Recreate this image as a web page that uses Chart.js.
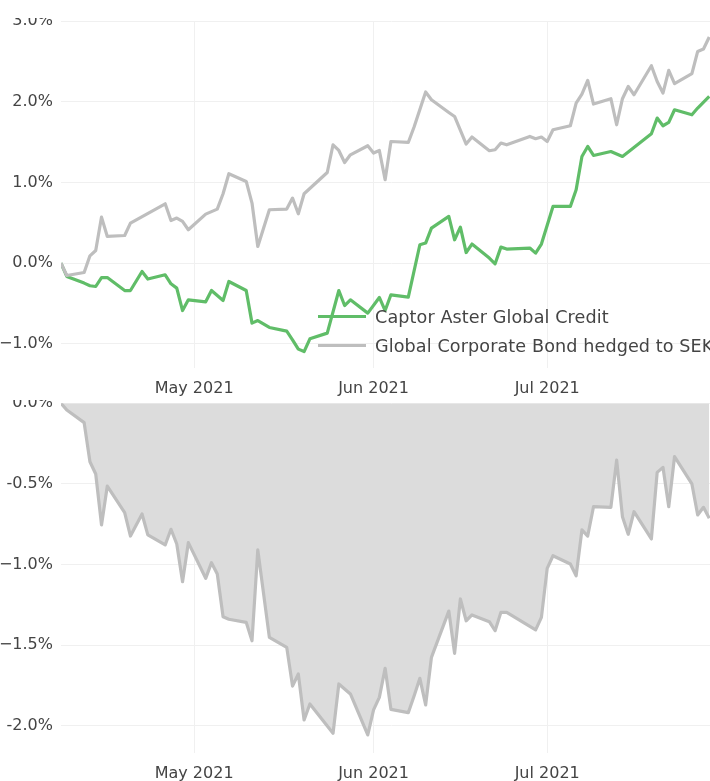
<!DOCTYPE html>
<html>
<head>
<meta charset="utf-8">
<script src="https://cdn.jsdelivr.net/npm/chart.js@4.4.1/dist/chart.umd.min.js"></script>
<style>
    html, body { margin: 0; padding: 0; width: 710px; height: 781px; overflow: hidden; background: #fff; }
    .box { position: absolute; left: 0; width: 724px; }
    #topBox { top: 0; height: 400px; clip-path: inset(18px 0 0 0); }
    #botBox { top: 382px; height: 399px; clip-path: inset(18px 0 0 0); }
    .legend { position: absolute; left: 318px; top: 302px; font-family: "DejaVu Sans", sans-serif; font-size: 17.6px; letter-spacing: 0.1px; color: #444; white-space: nowrap; }
    .legend-row { display: flex; align-items: center; height: 29px; }
    .swatch { width: 48px; height: 3px; margin-right: 9px; }
</style>
</head>
<body>
<div class="box" id="topBox"><canvas id="perfChart"></canvas></div>
<div class="box" id="botBox"><canvas id="ddChart"></canvas></div>
<div class="legend">
    <div class="legend-row"><span class="swatch" style="background:#60bd68"></span>Captor Aster Global Credit</div>
    <div class="legend-row"><span class="swatch" style="background:#bebebe"></span>Global Corporate Bond hedged to SEK</div>
</div>
<script>
// Data (cumulative return in %)
const captorDates = ['2021-04-08','2021-04-09','2021-04-12','2021-04-13','2021-04-14','2021-04-15','2021-04-16','2021-04-19','2021-04-20','2021-04-22','2021-04-23','2021-04-26','2021-04-27','2021-04-28','2021-04-29','2021-04-30','2021-05-03','2021-05-04','2021-05-06','2021-05-07','2021-05-10','2021-05-11','2021-05-12','2021-05-14','2021-05-17','2021-05-18','2021-05-19','2021-05-20','2021-05-21','2021-05-24','2021-05-26','2021-05-27','2021-05-28','2021-05-31','2021-06-02','2021-06-03','2021-06-04','2021-06-07','2021-06-09','2021-06-10','2021-06-11','2021-06-14','2021-06-15','2021-06-16','2021-06-17','2021-06-18','2021-06-21','2021-06-22','2021-06-23','2021-06-24','2021-06-28','2021-06-29','2021-06-30','2021-07-02','2021-07-05','2021-07-06','2021-07-07','2021-07-08','2021-07-09','2021-07-12','2021-07-14','2021-07-15','2021-07-19','2021-07-20','2021-07-21','2021-07-22','2021-07-23','2021-07-26','2021-07-27','2021-07-29'];
const captorValues = [0,-0.166,-0.248,-0.281,-0.29,-0.179,-0.179,-0.34,-0.34,-0.104,-0.198,-0.145,-0.257,-0.31,-0.588,-0.455,-0.48,-0.34,-0.464,-0.228,-0.34,-0.744,-0.712,-0.798,-0.843,-0.951,-1.066,-1.096,-0.938,-0.868,-0.34,-0.526,-0.455,-0.62,-0.426,-0.588,-0.393,-0.421,0.227,0.248,0.434,0.578,0.289,0.446,0.131,0.236,0.062,-0.009,0.198,0.174,0.186,0.124,0.236,0.702,0.702,0.909,1.321,1.445,1.334,1.383,1.321,1.376,1.603,1.797,1.702,1.743,1.9,1.838,1.921,2.065];

const benchDates = ['2021-04-08','2021-04-09','2021-04-12','2021-04-13','2021-04-14','2021-04-15','2021-04-16','2021-04-19','2021-04-20','2021-04-26','2021-04-27','2021-04-28','2021-04-29','2021-04-30','2021-05-03','2021-05-05','2021-05-06','2021-05-07','2021-05-10','2021-05-11','2021-05-12','2021-05-14','2021-05-17','2021-05-18','2021-05-19','2021-05-20','2021-05-24','2021-05-25','2021-05-26','2021-05-27','2021-05-28','2021-05-31','2021-06-01','2021-06-02','2021-06-03','2021-06-04','2021-06-07','2021-06-08','2021-06-10','2021-06-11','2021-06-14','2021-06-15','2021-06-17','2021-06-18','2021-06-21','2021-06-22','2021-06-23','2021-06-24','2021-06-28','2021-06-29','2021-06-30','2021-07-01','2021-07-02','2021-07-05','2021-07-06','2021-07-07','2021-07-08','2021-07-09','2021-07-12','2021-07-13','2021-07-14','2021-07-15','2021-07-16','2021-07-19','2021-07-20','2021-07-21','2021-07-22','2021-07-23','2021-07-26','2021-07-27','2021-07-28','2021-07-29'];
const benchValues = [0,-0.154,-0.117,0.09,0.156,0.57,0.33,0.342,0.496,0.735,0.528,0.558,0.516,0.413,0.607,0.669,0.859,1.107,1.012,0.744,0.206,0.661,0.669,0.806,0.611,0.859,1.123,1.466,1.396,1.247,1.342,1.454,1.364,1.396,1.033,1.507,1.495,1.686,2.12,2.024,1.867,1.817,1.475,1.562,1.392,1.404,1.488,1.466,1.569,1.541,1.562,1.507,1.652,1.702,1.983,2.095,2.264,1.971,2.037,1.714,2.037,2.189,2.086,2.446,2.251,2.107,2.388,2.223,2.347,2.623,2.653,2.802];

// Relative drawdown (%)
const ddDates = ['2021-04-08','2021-04-09','2021-04-12','2021-04-13','2021-04-14','2021-04-15','2021-04-16','2021-04-19','2021-04-20','2021-04-22','2021-04-23','2021-04-26','2021-04-27','2021-04-28','2021-04-29','2021-04-30','2021-05-03','2021-05-04','2021-05-05','2021-05-06','2021-05-07','2021-05-10','2021-05-11','2021-05-12','2021-05-14','2021-05-17','2021-05-18','2021-05-19','2021-05-20','2021-05-21','2021-05-25','2021-05-26','2021-05-28','2021-05-31','2021-06-01','2021-06-02','2021-06-03','2021-06-04','2021-06-07','2021-06-08','2021-06-09','2021-06-10','2021-06-11','2021-06-14','2021-06-15','2021-06-16','2021-06-17','2021-06-18','2021-06-21','2021-06-22','2021-06-23','2021-06-24','2021-06-29','2021-06-30','2021-07-01','2021-07-02','2021-07-05','2021-07-06','2021-07-07','2021-07-08','2021-07-09','2021-07-12','2021-07-13','2021-07-14','2021-07-15','2021-07-16','2021-07-19','2021-07-20','2021-07-21','2021-07-22','2021-07-23','2021-07-26','2021-07-27','2021-07-28','2021-07-29'];
const ddValues = [0,-0.042,-0.12,-0.362,-0.438,-0.754,-0.513,-0.678,-0.823,-0.686,-0.816,-0.878,-0.781,-0.872,-1.106,-0.864,-1.085,-0.988,-1.058,-1.323,-1.339,-1.358,-1.472,-0.909,-1.451,-1.513,-1.753,-1.678,-1.963,-1.864,-2.046,-1.74,-1.802,-2.056,-1.901,-1.823,-1.643,-1.897,-1.918,-1.815,-1.705,-1.87,-1.575,-1.288,-1.55,-1.213,-1.348,-1.312,-1.354,-1.41,-1.296,-1.296,-1.405,-1.327,-1.023,-0.945,-0.996,-1.069,-0.785,-0.823,-0.641,-0.645,-0.352,-0.703,-0.812,-0.672,-0.841,-0.428,-0.397,-0.641,-0.331,-0.5,-0.692,-0.645,-0.713];

// Axis ticks
const monthTicks = ['2021-05-01','2021-06-01','2021-07-01'];
const monthLabels = ['May 2021','Jun 2021','Jul 2021'];
const perfTicks = [-1, 0, 1, 2, 3];
const perfTickLabels = ['\u22121.0%','0.0%','1.0%','2.0%','3.0%'];
const ddTicks = [-2, -1.5, -1, -0.5, 0];
const ddTickLabels = ['-2.0%','\u22121.5%','\u22121.0%','-0.5%','0.0%'];

// Helpers
const BASE = Date.UTC(2021, 3, 1);
const toDay = s => (Date.parse(s) - BASE) / 86400000;
const toPoints = (dates, values) => dates.map((d, i) => ({ x: toDay(d), y: values[i] }));

const FONT = { family: '"DejaVu Sans", sans-serif', size: 16 };
const GRID = '#f0f0f0';

const xScale = (pad, height) => ({
    type: 'linear',
    min: toDay('2021-04-08'),
    max: 121.2,
    afterBuildTicks: s => { s.ticks = monthTicks.map(d => ({ value: toDay(d) })); },
    afterFit: s => { s.height = height; },
    grid: { color: GRID, drawTicks: false },
    border: { display: false },
    ticks: {
        padding: pad,
        color: '#444',
        font: FONT,
        maxRotation: 0,
        autoSkip: false,
        callback: v => monthLabels[monthTicks.findIndex(d => toDay(d) === v)]
    }
});

const yScale = (min, max, ticks, labels) => ({
    min: min,
    max: max,
    afterBuildTicks: s => { s.ticks = ticks.map(v => ({ value: v })); },
    afterFit: s => { s.width = 61; },
    grid: { color: GRID, drawTicks: false },
    border: { display: false },
    ticks: {
        padding: 8,
        color: '#444',
        font: FONT,
        callback: v => labels[ticks.indexOf(v)]
    }
});

const common = {
    responsive: true,
    maintainAspectRatio: false,
    animation: false,
    events: [],
    plugins: { legend: { display: false }, tooltip: { enabled: false } },
    elements: { point: { radius: 0 }, line: { tension: 0, borderJoinStyle: 'round' } }
};

new Chart(document.getElementById('perfChart'), {
    type: 'line',
    data: {
        datasets: [
            { label: 'Global Corporate Bond hedged to SEK', data: toPoints(benchDates, benchValues), borderColor: '#bebebe', borderWidth: 3.2, fill: false },
            { label: 'Captor Aster Global Credit', data: toPoints(captorDates, captorValues), borderColor: '#60bd68', borderWidth: 3.2, fill: false }
        ]
    },
    options: {
        ...common,
        layout: { padding: { top: 21, right: 2, bottom: 0, left: 0 } },
        scales: {
            x: xScale(11.5, 32),
            y: yScale(-1.3, 3.0, perfTicks, perfTickLabels)
        }
    }
});

new Chart(document.getElementById('ddChart'), {
    type: 'line',
    data: {
        datasets: [
            { label: 'Drawdown', data: toPoints(ddDates, ddValues), borderColor: '#bebebe', backgroundColor: '#dcdcdc', borderWidth: 3.2, fill: 'origin' }
        ]
    },
    options: {
        ...common,
        layout: { padding: { top: 21.3, right: 2, bottom: 0, left: 0 } },
        scales: {
            x: xScale(12, 28.3),
            y: yScale(-2.166, 0, ddTicks, ddTickLabels)
        }
    }
});
</script>
</body>
</html>
